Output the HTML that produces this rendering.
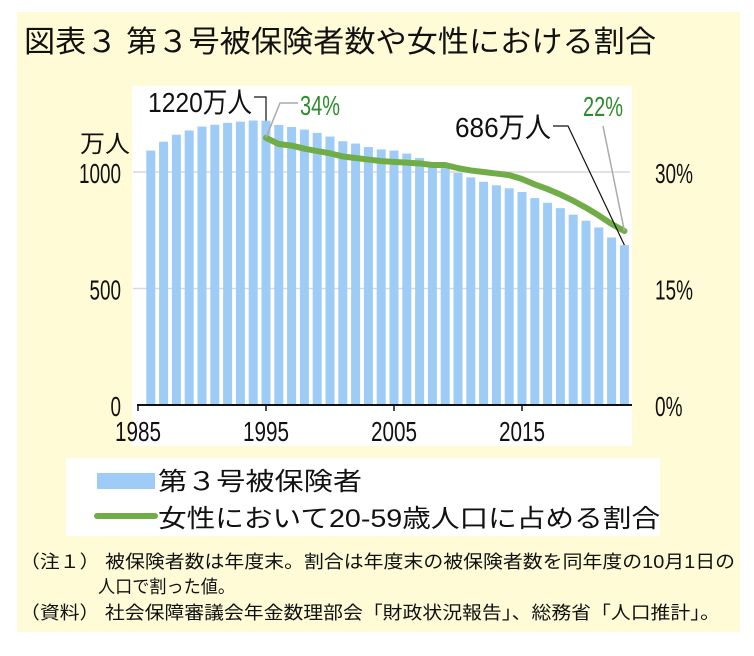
<!DOCTYPE html>
<html><head><meta charset="utf-8">
<style>
body{margin:0;width:754px;height:651px;background:#fff;overflow:hidden}
svg text{font-family:"Liberation Sans Narrow","Liberation Sans","Noto Sans CJK JP",sans-serif}
</style></head><body>
<svg id="chart" width="754" height="651" xmlns="http://www.w3.org/2000/svg">
<rect x="17" y="12" width="723" height="620" fill="#fefbd6"/>
<text x="24" y="52" font-size="30" fill="#111" textLength="632" lengthAdjust="spacingAndGlyphs">図表３ 第３号被保険者数や女性における割合</text>
<rect x="132" y="86" width="500" height="360" fill="#fff"/>
<g id="grid"></g><g id="bars"></g><g id="line"></g><g id="axes"></g>
<text x="80" y="152" font-size="24" fill="#111" textLength="50" lengthAdjust="spacingAndGlyphs">万人</text>
<rect x="66" y="458" width="594" height="78" fill="#fff"/>
<rect x="97" y="473" width="58" height="16" fill="#9fcbf7"/>
<text x="158" y="490" font-size="25" fill="#111" textLength="204" lengthAdjust="spacingAndGlyphs">第３号被保険者</text>
<line x1="97" y1="516" x2="155" y2="516" stroke="#70ad47" stroke-width="6" stroke-linecap="round"/>
<text x="158" y="527" font-size="25" fill="#111" textLength="502" lengthAdjust="spacingAndGlyphs">女性において20-59歳人口に占める割合</text>
<text x="20" y="568" font-size="18" fill="#111" textLength="715" lengthAdjust="spacingAndGlyphs">（注１） 被保険者数は年度末。割合は年度末の被保険者数を同年度の10月1日の</text>
<text x="98" y="593" font-size="18" fill="#111" textLength="137" lengthAdjust="spacingAndGlyphs">人口で割った値。</text>
<text x="20" y="619" font-size="18" fill="#111" textLength="700" lengthAdjust="spacingAndGlyphs">（資料） 社会保障審議会年金数理部会「財政状況報告」、総務省「人口推計」。</text>
</svg>
<script>
const years=[1986,1987,1988,1989,1990,1991,1992,1993,1994,1995,1996,1997,1998,1999,2000,2001,2002,2003,2004,2005,2006,2007,2008,2009,2010,2011,2012,2013,2014,2015,2016,2017,2018,2019,2020,2021,2022,2023];
const insured=[1092,1130,1160,1178,1195,1203,1211,1216,1221,1220,1202,1193,1182,1168,1152,1132,1122,1107,1097,1092,1079,1060,1036,1017,996,977,958,943,930,914,888,868,845,817,791,762,719,686];
const lineYears=[1995,1996,1997,1998,1999,2000,2001,2002,2003,2004,2005,2006,2007,2008,2009,2010,2011,2012,2013,2014,2015,2016,2017,2018,2019,2020,2021,2022,2023];
const ratio=[34.4,33.6,33.4,33.0,32.7,32.4,32.0,31.8,31.6,31.4,31.3,31.2,31.1,30.9,30.9,30.5,30.2,30.0,29.8,29.6,29.1,28.4,27.8,27.1,26.3,25.4,24.4,23.3,22.4];
const leftTicks=[0,500,1000];
const rightTicks=[0,15,30];
const xTicks=[1985,1995,2005,2015];
const NS="http://www.w3.org/2000/svg";
const x=y=>138+(y-1985)*12.8;
const y0=405,pxPer=0.233;
const yL=v=>y0-v*pxPer;
const yR=p=>y0-p/30*1000*pxPer;
function mk(p,t,a){const e=document.createElementNS(NS,t);for(const k in a)e.setAttribute(k,a[k]);p.appendChild(e);return e;}
const G=id=>document.getElementById(id);
const narrow=(t,n)=>{t.setAttribute('textLength',n);t.setAttribute('lengthAdjust','spacingAndGlyphs');};
leftTicks.forEach(v=>{
 if(v>0){const l=mk(G('grid'),'line',{x1:133,x2:630,y1:yL(v),y2:yL(v),stroke:'#d9d9d9','stroke-width':1.5});
 
 }
 const t=mk(G('axes'),'text',{x:121,y:yL(v)+11,'font-size':28,'text-anchor':'end',fill:'#111'});t.textContent=v;
 narrow(t,String(v).length*10.5);
 
 
});
rightTicks.forEach(p=>{
 const t=mk(G('axes'),'text',{x:655,y:yR(p)+11,'font-size':28,fill:'#111'});t.textContent=p+'%';
 narrow(t,String(p).length*10.5+17);
 
 
});
years.forEach((yr,i)=>{
 const r=mk(G('bars'),'rect',{x:x(yr)-4.5,y:yL(insured[i]),width:9,height:y0-yL(insured[i]),fill:'#9fcbf7'});
 
 
});
const ax=mk(G('axes'),'line',{x1:137,x2:632,y1:y0,y2:y0,stroke:'#111','stroke-width':2});


xTicks.forEach(yr=>{
 const tk=mk(G('axes'),'line',{x1:x(yr),x2:x(yr),y1:y0,y2:y0+6,stroke:'#111','stroke-width':1.5});
 
 
 const t=mk(G('axes'),'text',{x:x(yr),y:y0+36,'font-size':28,'text-anchor':'middle',fill:'#111'});t.textContent=yr;
 narrow(t,46);
 
 
});
const pl=mk(G('line'),'polyline',{points:lineYears.map((yr,i)=>x(yr)+','+yR(ratio[i])).join(' '),fill:'none',stroke:'#70ad47','stroke-width':6,'stroke-linejoin':'round','stroke-linecap':'round'});


const a=G('axes');
const peakX=x(1995),peakY=yL(insured[9]);
const c1=mk(a,'polyline',{points:`${peakX-12},97 ${peakX},97 ${peakX},${peakY}`,fill:'none',stroke:'#111','stroke-width':1.2});

const t1=mk(a,'text',{x:peakX-14,y:112,'font-size':28,'text-anchor':'end',fill:'#111'});t1.textContent='1220万人';
narrow(t1,104);

const c2=mk(a,'polyline',{points:`${peakX},${yR(ratio[0])} ${peakX+14},103 ${peakX+32},103`,fill:'none',stroke:'#aaa','stroke-width':1.5});

const t2=mk(a,'text',{x:peakX+34,y:115,'font-size':28,fill:'#2e8b2e'});t2.textContent='34%';
narrow(t2,40);

const lx=x(2023);
const c3=mk(a,'polyline',{points:`553,126 568,126 ${lx},${yL(insured[37])}`,fill:'none',stroke:'#111','stroke-width':1.2});

const t3=mk(a,'text',{x:551,y:137,'font-size':28,'text-anchor':'end',fill:'#111'});t3.textContent='686万人';
narrow(t3,96);

const c4=mk(a,'line',{x1:603,y1:126,x2:lx,y2:yR(ratio[28]),stroke:'#aaa','stroke-width':1.5});

const t4=mk(a,'text',{x:603,y:116,'font-size':28,'text-anchor':'middle',fill:'#2e8b2e'});t4.textContent='22%';
narrow(t4,40);

</script>
</body></html>
